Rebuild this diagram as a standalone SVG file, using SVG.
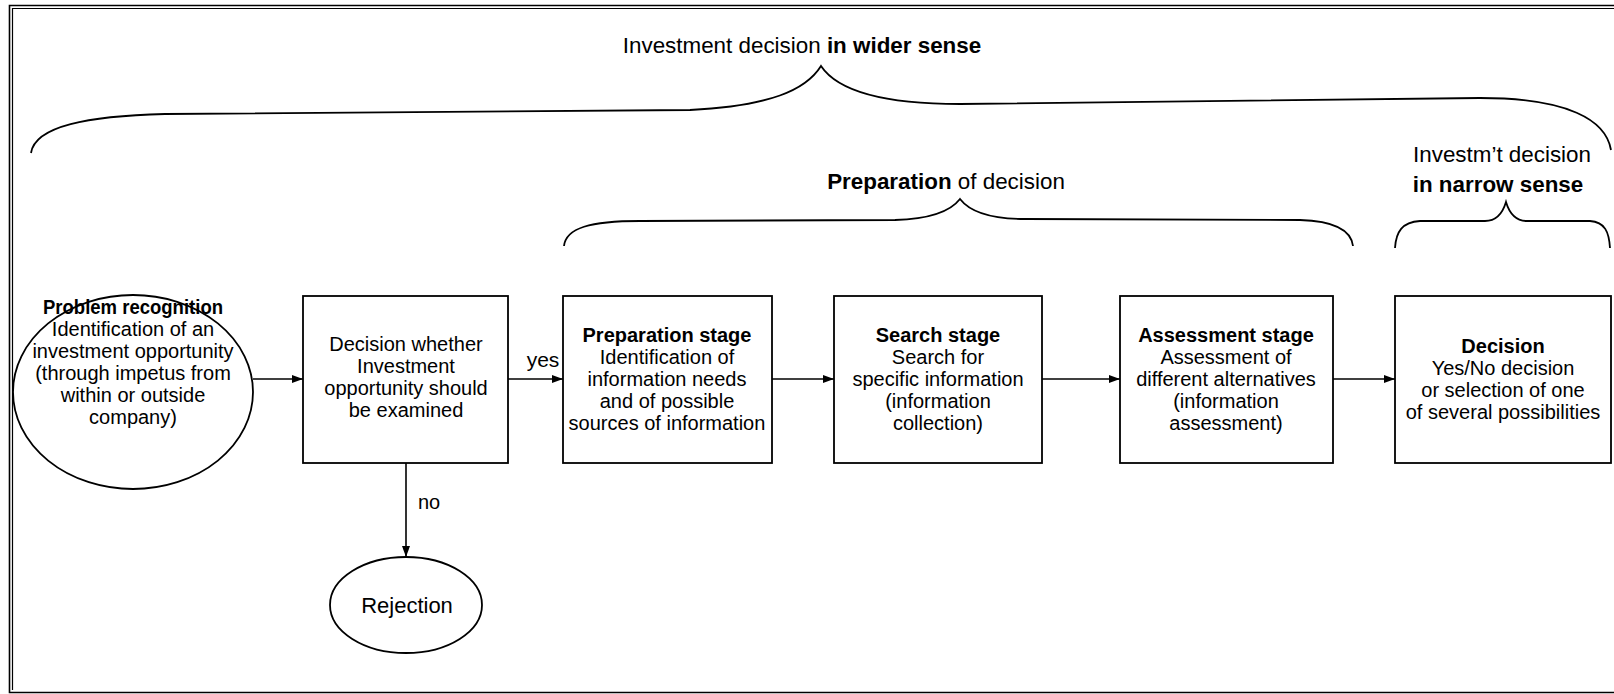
<svg xmlns="http://www.w3.org/2000/svg" width="1614" height="694" viewBox="0 0 1614 694">
  <style>
    text { font-family: "Liberation Sans", Arial, sans-serif; fill: #000; }
    .hdr { font-size: 22.4px; }
    .t { font-size: 20px; text-anchor: middle; }
    .b { font-weight: bold; }
    .shape { fill: #fff; stroke: #000; stroke-width: 1.8; }
    .brace { fill: none; stroke: #000; stroke-width: 1.8; }
    .conn { fill: none; stroke: #000; stroke-width: 1.6; }
    .frame { fill: none; stroke: #000; }
  </style>
  <defs>
    <marker id="arrow" markerUnits="userSpaceOnUse" markerWidth="12" markerHeight="10" refX="11" refY="5" orient="auto">
      <path d="M0,1 L11,5 L0,9 z" fill="#000"/>
    </marker>
  </defs>

  <rect width="1614" height="694" fill="#fff"/>

  <!-- outer frame (double line on top and left) -->
  <g id="frame">
    <path class="frame" stroke-width="1.6" d="M1614,5.5 H9.5 V692.5 H1614"/>
    <path class="frame" stroke-width="1.2" d="M1614,8.5 H12.5 V690"/>
  </g>

  <!-- braces and their headings -->
  <g id="brace-wide">
    <path class="brace" d="M31,153 C35,126 88,116 165,114 L690,110 C770,106 806,90 821,66 C837,90 880,104 960,104 L1480,98 C1568,98 1606,120 1611,150"/>
    <text class="hdr" x="802" y="53" text-anchor="middle">Investment decision <tspan class="b">in wider sense</tspan></text>
  </g>
  <g id="brace-preparation">
    <path class="brace" d="M564,246 C566,228 590,221 640,221 L895,220 C930,219 950,212 960,199 C970,212 990,219 1025,219 L1300,220 C1335,221 1351,230 1353,246"/>
    <text class="hdr" x="946" y="189" text-anchor="middle"><tspan class="b">Preparation</tspan> of decision</text>
  </g>
  <g id="brace-narrow">
    <path class="brace" d="M1395,248 C1396,232 1402,222 1420,221 L1485,221 C1497,221 1503,212 1506,202 C1509,212 1515,221 1527,221 L1590,221 C1605,222 1609,232 1610,248"/>
    <text class="hdr" x="1502" y="162" text-anchor="middle">Investm’t decision</text>
    <text class="hdr b" x="1498" y="192" text-anchor="middle">in narrow sense</text>
  </g>

  <!-- connectors -->
  <g id="connectors">
    <line class="conn" x1="253" y1="379" x2="303" y2="379" marker-end="url(#arrow)"/>
    <line class="conn" x1="508" y1="379" x2="563" y2="379" marker-end="url(#arrow)"/>
    <line class="conn" x1="772" y1="379" x2="834" y2="379" marker-end="url(#arrow)"/>
    <line class="conn" x1="1042" y1="379" x2="1120" y2="379" marker-end="url(#arrow)"/>
    <line class="conn" x1="1333" y1="379" x2="1395" y2="379" marker-end="url(#arrow)"/>
    <line class="conn" x1="406" y1="463" x2="406" y2="557" marker-end="url(#arrow)"/>
    <text class="t" x="543" y="367" style="font-size:21px">yes</text>
    <text class="t" x="429" y="509">no</text>
  </g>

  <!-- nodes -->
  <g id="problem-recognition">
    <ellipse class="shape" cx="133" cy="392" rx="120" ry="97"/>
    <text class="t b" x="133" y="314" textLength="180" lengthAdjust="spacingAndGlyphs">Problem recognition</text>
    <text class="t" x="133" y="336">Identification of an</text>
    <text class="t" x="133" y="358">investment opportunity</text>
    <text class="t" x="133" y="380">(through impetus from</text>
    <text class="t" x="133" y="402">within or outside</text>
    <text class="t" x="133" y="424">company)</text>
  </g>

  <g id="decision-whether">
    <rect class="shape" x="303" y="296" width="205" height="167"/>
    <text class="t" x="406" y="351">Decision whether</text>
    <text class="t" x="406" y="373">Investment</text>
    <text class="t" x="406" y="395">opportunity should</text>
    <text class="t" x="406" y="417">be examined</text>
  </g>

  <g id="preparation-stage">
    <rect class="shape" x="563" y="296" width="209" height="167"/>
    <text class="t b" x="667" y="342">Preparation stage</text>
    <text class="t" x="667" y="364">Identification of</text>
    <text class="t" x="667" y="386">information needs</text>
    <text class="t" x="667" y="408">and of possible</text>
    <text class="t" x="667" y="430">sources of information</text>
  </g>

  <g id="search-stage">
    <rect class="shape" x="834" y="296" width="208" height="167"/>
    <text class="t b" x="938" y="342">Search stage</text>
    <text class="t" x="938" y="364">Search for</text>
    <text class="t" x="938" y="386">specific information</text>
    <text class="t" x="938" y="408">(information</text>
    <text class="t" x="938" y="430">collection)</text>
  </g>

  <g id="assessment-stage">
    <rect class="shape" x="1120" y="296" width="213" height="167"/>
    <text class="t b" x="1226" y="342">Assessment stage</text>
    <text class="t" x="1226" y="364">Assessment of</text>
    <text class="t" x="1226" y="386">different alternatives</text>
    <text class="t" x="1226" y="408">(information</text>
    <text class="t" x="1226" y="430">assessment)</text>
  </g>

  <g id="decision">
    <rect class="shape" x="1395" y="296" width="216" height="167"/>
    <text class="t b" x="1503" y="353">Decision</text>
    <text class="t" x="1503" y="375">Yes/No decision</text>
    <text class="t" x="1503" y="397">or selection of one</text>
    <text class="t" x="1503" y="419">of several possibilities</text>
  </g>

  <g id="rejection">
    <ellipse class="shape" cx="406" cy="605" rx="76" ry="48"/>
    <text class="t" x="407" y="613" style="font-size:22px">Rejection</text>
  </g>
</svg>
